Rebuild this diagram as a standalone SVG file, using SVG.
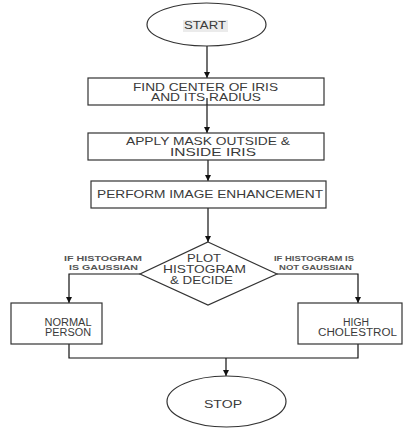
<svg xmlns="http://www.w3.org/2000/svg" width="406" height="428" viewBox="0 0 406 428">
<defs>
<marker id="ah" viewBox="0 0 10 10" refX="10" refY="5" markerWidth="6" markerHeight="6" markerUnits="userSpaceOnUse" orient="auto">
<path d="M0,0 L10,5 L0,10 Z" fill="#111"/>
</marker>
<style>
.sh{fill:#fff;stroke:#333;stroke-width:1.2}
.t{font-family:"Liberation Sans",Arial,sans-serif;fill:#3a3a3a;text-anchor:middle}
.b{font-size:10.5px}
.m{font-size:10px}
.s{font-size:8px;font-weight:bold;fill:#555}
.c{fill:none;stroke:#111;stroke-width:1.2}
</style>
</defs>
<rect width="406" height="428" fill="#fff"/>
<g id="connectors">
<line class="c" x1="207" y1="46" x2="207" y2="78" marker-end="url(#ah)"/>
<line class="c" x1="207" y1="98" x2="207" y2="133" marker-end="url(#ah)"/>
<line class="c" x1="208" y1="160" x2="208" y2="181" marker-end="url(#ah)"/>
<line class="c" x1="208" y1="208" x2="208" y2="242" marker-end="url(#ah)"/>
<polyline class="c" points="140,274 69,274 69,303" marker-end="url(#ah)"/>
<polyline class="c" points="277,274 358,274 358,303" marker-end="url(#ah)"/>
<polyline class="c" points="69,344 69,358 358,358 358,344"/>
<line class="c" x1="226" y1="358" x2="226" y2="376" marker-end="url(#ah)"/>
<text class="t s" x="103" y="261" textLength="78" lengthAdjust="spacingAndGlyphs">IF HISTOGRAM</text>
<text class="t s" x="103.5" y="270" textLength="69" lengthAdjust="spacingAndGlyphs">IS GAUSSIAN</text>
<text class="t s" x="314" y="261" textLength="80" lengthAdjust="spacingAndGlyphs">IF HISTOGRAM IS</text>
<text class="t s" x="315.5" y="270" textLength="73" lengthAdjust="spacingAndGlyphs">NOT GAUSSIAN</text>
</g>
<g id="start">
<ellipse class="sh" cx="206.5" cy="24.5" rx="59.5" ry="21.5"/>
<rect x="183" y="20" width="45" height="12" fill="#ebebeb"/>
<text class="t m" x="205" y="29" textLength="42" lengthAdjust="spacingAndGlyphs">START</text>
</g>
<g id="find-center">
<rect class="sh" x="88" y="78" width="236" height="27"/>
<text class="t b" x="205.5" y="90.5" textLength="145" lengthAdjust="spacingAndGlyphs">FIND CENTER OF IRIS</text>
<text class="t b" x="206" y="101" textLength="110" lengthAdjust="spacingAndGlyphs">AND ITS RADIUS</text>
</g>
<line class="c" x1="207" y1="98" x2="207" y2="105"/>
<g id="apply-mask">
<rect class="sh" x="88" y="133" width="236" height="27"/>
<text class="t b" x="208" y="145" textLength="164" lengthAdjust="spacingAndGlyphs">APPLY MASK OUTSIDE &amp;</text>
<text class="t b" x="213" y="156" textLength="86" lengthAdjust="spacingAndGlyphs">INSIDE IRIS</text>
</g>
<g id="enhance">
<rect class="sh" x="91" y="181" width="235" height="27"/>
<text class="t b" x="210" y="198" textLength="226" lengthAdjust="spacingAndGlyphs">PERFORM IMAGE ENHANCEMENT</text>
</g>
<g id="decide">
<polygon class="sh" points="208,242 277,274 208,305 140,274"/>
<text class="t b" x="204" y="262" textLength="34" lengthAdjust="spacingAndGlyphs">PLOT</text>
<text class="t b" x="204.5" y="273" textLength="83" lengthAdjust="spacingAndGlyphs">HISTOGRAM</text>
<text class="t b" x="201.5" y="284" textLength="63" lengthAdjust="spacingAndGlyphs">&amp; DECIDE</text>
</g>
<g id="normal">
<rect class="sh" x="11" y="303" width="91" height="41"/>
<text class="t m" x="68" y="325.7" textLength="47" lengthAdjust="spacingAndGlyphs">NORMAL</text>
<text class="t m" x="68" y="335.7" textLength="46" lengthAdjust="spacingAndGlyphs">PERSON</text>
</g>
<g id="high">
<rect class="sh" x="298" y="303" width="104" height="41"/>
<text class="t m" x="356" y="325.7" textLength="26" lengthAdjust="spacingAndGlyphs">HIGH</text>
<text class="t m" x="357.5" y="335.7" textLength="79" lengthAdjust="spacingAndGlyphs">CHOLESTROL</text>
</g>
<g id="stop">
<ellipse class="sh" cx="226.5" cy="401.5" rx="59.5" ry="25.5"/>
<text class="t m" x="223" y="408" textLength="38" lengthAdjust="spacingAndGlyphs">STOP</text>
</g>
</svg>
